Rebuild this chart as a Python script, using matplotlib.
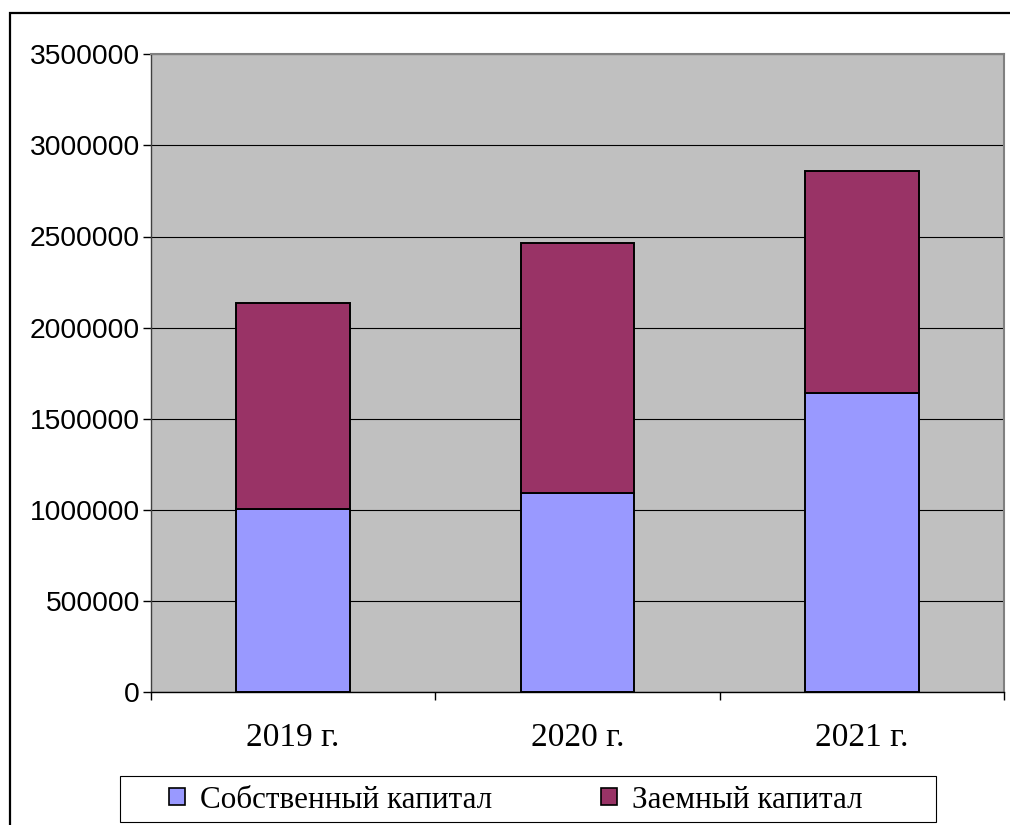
import matplotlib
matplotlib.use("Agg")
import matplotlib.pyplot as plt
from matplotlib.patches import Rectangle, Patch
import numpy as np

# Capital structure by year
years = ["2019 г.", "2020 г.", "2021 г."]
own_capital = [1006000, 1094000, 1643000]
borrowed_capital = [1131000, 1372000, 1218000]
series_names = ["Собственный капитал", "Заемный капитал"]
y_ticks = [0, 500000, 1000000, 1500000, 2000000, 2500000, 3000000, 3500000]

W, H = 1010, 825
fig = plt.figure(figsize=(W / 100, H / 100), dpi=100)
fig.patch.set_facecolor("white")

# outer chart frame (runs off the right and bottom edges)
fig.patches.append(Rectangle((9.5 / W, -0.05), 1.2, 1 - 12.5 / H + 0.05,
                             transform=fig.transFigure, fill=False,
                             edgecolor="black", linewidth=1.6, zorder=0))

ax = fig.add_axes([151 / W, 1 - 692 / H, (1004 - 151) / W, (692 - 54.3) / H])
ax.set_facecolor("#C0C0C0")

x = np.arange(len(years))
bw = 0.4
ax.bar(x, own_capital, width=bw, color="#9999FF", edgecolor="black",
       linewidth=1.4, zorder=3, label=series_names[0])
ax.bar(x, borrowed_capital, width=bw, bottom=own_capital, color="#993366",
       edgecolor="black", linewidth=1.4, zorder=3, label=series_names[1])

ax.set_xlim(-0.5, len(years) - 0.5)
ax.set_ylim(0, 3500000)
ax.set_yticks(y_ticks)
ax.set_yticklabels([str(v) for v in y_ticks], fontfamily="Liberation Sans",
                   fontsize=20.3)
ax.yaxis.grid(True, color="black", linewidth=0.8, zorder=1)
ax.set_axisbelow(True)

ax.set_xticks(x)
ax.set_xticklabels(years, fontfamily="Liberation Serif", fontsize=24)
ax.set_xticks(np.arange(-0.5, len(years), 1.0), minor=True)
ax.tick_params(axis="x", which="major", length=0, pad=22)
ax.tick_params(axis="x", which="minor", length=6, width=1, direction="out",
               color="black")
ax.tick_params(axis="y", length=6, width=1, direction="out", pad=2,
               color="black")

ax.spines["bottom"].set_color("black")
ax.spines["bottom"].set_linewidth(1.0)
ax.spines["left"].set_color("#404040")
ax.spines["left"].set_linewidth(1.0)
ax.spines["top"].set_color("#808080")
ax.spines["right"].set_color("#808080")
ax.spines["top"].set_linewidth(1.5)
ax.spines["right"].set_linewidth(1.5)

# legend box
fig.patches.append(Rectangle((120 / W, 1 - 822 / H), 816 / W, 46 / H,
                             transform=fig.transFigure, facecolor="white",
                             edgecolor="black", linewidth=0.8, zorder=1))

handles = [Patch(facecolor="#9999FF", edgecolor="black", linewidth=1.2),
           Patch(facecolor="#993366", edgecolor="black", linewidth=1.2)]
leg = fig.legend(handles, series_names, ncol=2, loc="center",
                 bbox_to_anchor=(516 / W, 1 - 800 / H),
                 borderaxespad=0, frameon=False,
                 prop={"family": "Liberation Serif", "size": 22.4},
                 handlelength=0.5, handleheight=0.5, handletextpad=0.5,
                 borderpad=0, columnspacing=3.5)
leg.set_zorder(2)

fig.savefig("out.png", dpi=100)
